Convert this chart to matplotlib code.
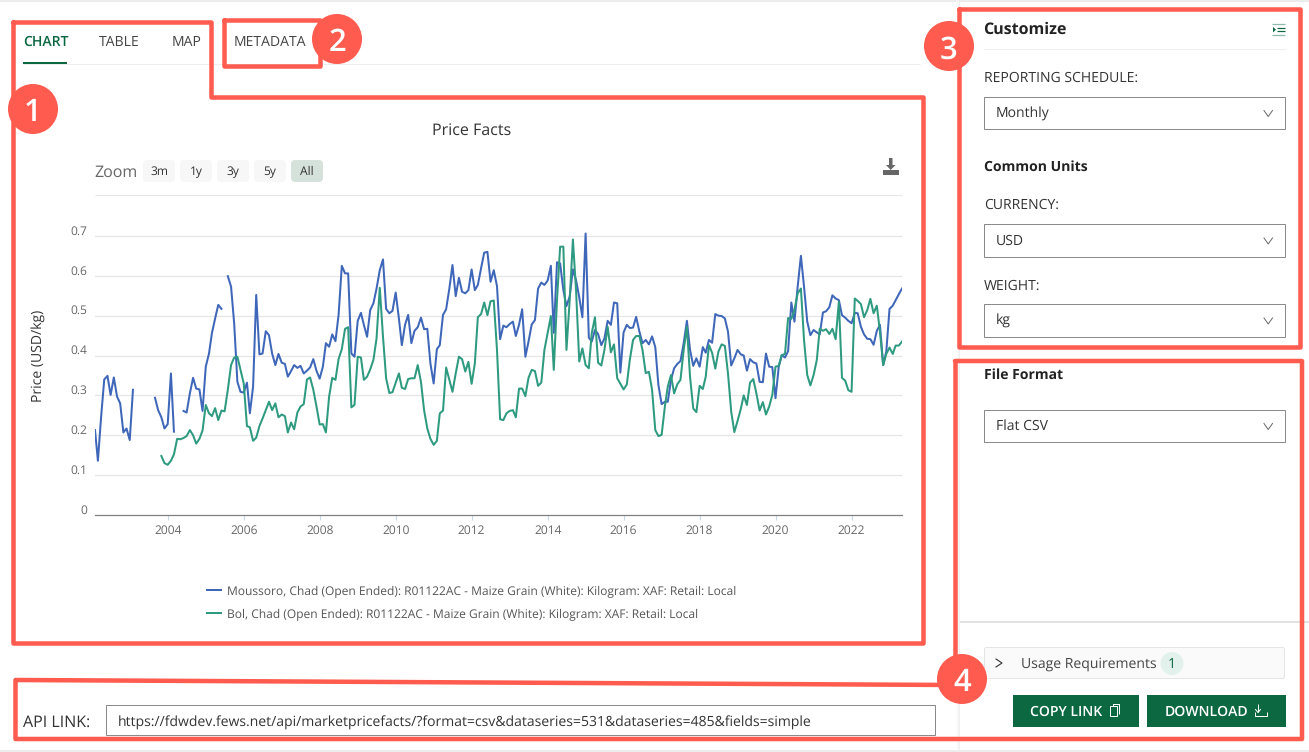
import matplotlib
matplotlib.use("Agg")
import matplotlib.pyplot as plt
import matplotlib.dates as mdates
from matplotlib.patches import Rectangle, Circle, FancyBboxPatch
import pandas as pd
import numpy as np

plt.rcParams['font.family'] = ['Open Sans', 'DejaVu Sans']
plt.rcParams['text.hinting'] = 'no_hinting'
plt.rcParams['text.hinting_factor'] = 1

W, H = 1309, 752
START, END = "2002-02-01", "2023-05-01"

moussoro = [
 .213,.136,.247,.340,.349,.301,.345,.297,.280,.207,.217,.188,.314,
 None,None,None,None,None,None,
 .294,.263,.245,.217,.228,.355,.209,
 None,None,
 .261,.257,.305,.344,.317,.315,.261,.372,.405,.456,.493,.527,.517,
 None,
 .599,.573,.481,.334,.309,.307,.332,.255,.322,.552,.403,.405,.461,.451,.405,.376,
 .404,.382,.379,.347,.361,.376,.369,.374,.355,.362,.370,.391,.362,.342,.372,.431,
 .422,.453,.436,.502,.625,.606,.606,.405,.397,.487,.507,.477,.447,.514,
 .531,.568,.614,.641,.517,.506,.512,.558,.493,.426,.477,.502,.431,.462,.471,.495,
 .466,.467,.380,.330,.416,.426,.502,.516,.568,.627,.549,.595,.560,.556,.564,.616,
 .564,.577,.619,.658,.660,.585,.614,.574,.441,.475,.471,.479,.485,.449,.477,.516,
 .397,.435,.478,.489,.568,.583,.577,.588,.625,.457,.634,.631,.564,.524,.548,.616,
 .589,.546,.496,.706,.445,.435,.464,.454,.426,.443,.487,.477,.533,.531,.357,.458,
 .477,.469,.470,.497,.460,.431,.439,.428,.448,.421,.326,.278,.284,.284,.339,.368,
 .379,.386,.431,.487,.414,.374,.393,.372,.421,.407,.439,.432,.504,.500,.499,.493,
 .460,.375,.393,.414,.403,.400,.362,.391,.383,.380,.334,.333,.405,.372,.371,.293,
 .372,.401,.395,.411,.533,.485,.573,.650,.573,.485,.451,.464,.458,.453,.508,.511,
 .521,.551,.543,.539,.501,.495,.487,.481,.507,.506,.472,.453,.442,.441,.427,.462,
 .477,.376,.410,.517,.525,.539,.554,.568,
]
bol = [None]*21 + [
 .148,.130,.126,.136,.152,.191,.190,.193,.198,.213,.200,.179,.191,.212,
 .276,.255,.248,.268,.238,.262,.260,.314,.376,.395,.397,.364,.330,.223,.220,.186,
 .194,.223,.242,.263,.284,.263,.280,.245,.252,.248,.207,.232,.215,.257,.272,.278,
 .340,.345,.314,.273,.227,.228,.207,.297,.344,.339,.391,.416,.467,.471,.270,.276,
 .397,.395,.339,.347,.365,.389,.443,.570,.447,.343,.306,.308,.332,.355,.319,.316,
 .341,.343,.343,.376,.334,.263,.217,.191,.176,.186,.255,.262,.370,.339,.309,.355,
 .397,.391,.360,.384,.329,.380,.496,.504,.533,.501,.536,.538,.414,.240,.238,.255,
 .261,.263,.245,.317,.317,.298,.344,.364,.361,.324,.332,.414,.456,.499,.364,.539,
 .673,.673,.414,.539,.691,.564,.385,.418,.376,.368,.456,.496,.382,.375,.414,.472,
 .408,.428,.343,.329,.315,.327,.389,.439,.449,.449,.414,.356,.359,.314,.213,.198,
 .201,.272,.322,.351,.305,.328,.339,.414,.472,.347,.267,.258,.324,.316,.347,.426,
 .407,.367,.410,.428,.424,.355,.259,.208,.236,.266,.300,.276,.332,.341,.305,.262,
 .283,.252,.272,.301,.372,.374,.401,.404,.494,.492,.514,.556,.568,.439,.351,.325,
 .351,.389,.467,.462,.466,.454,.467,.441,.535,.344,.337,.313,.309,.543,.537,.529,
 .496,.514,.542,.506,.525,.460,.376,.404,.420,.404,.425,.425,.435,
]
y_ticks = [0, 0.1, 0.2, 0.3, 0.4, 0.5, 0.6, 0.7]
y_labels = ["0", "0.1", "0.2", "0.3", "0.4", "0.5", "0.6", "0.7"]
x_years = list(range(2004, 2023, 2))
series_names = ["Moussoro, Chad (Open Ended): R01122AC - Maize Grain (White): Kilogram: XAF: Retail: Local",
                "Bol, Chad (Open Ended): R01122AC - Maize Grain (White): Kilogram: XAF: Retail: Local"]
zoom_labels = ["3m", "1y", "3y", "5y", "All"]

months = pd.date_range(START, END, freq="MS")
assert len(moussoro) == len(months), f"blue {len(moussoro)} vs {len(months)}"
assert len(bol) == len(months), f"green {len(bol)} vs {len(months)}"

BLUE, GREEN, RED, DARK = "#3f67b9", "#2e9a80", "#ff5b4f", "#0b6841"
TXT, TXT2 = "#333333", "#666666"
def px(s): return s * 0.72

fig = plt.figure(figsize=(W/100, H/100), dpi=100, facecolor="white")

# ---------- chart ----------
AX_L, AX_R, AX_T, AX_B = 95, 902, 225, 515
PER_UNIT = 398.7
ax = fig.add_axes([AX_L/W, 1-AX_B/H, (AX_R-AX_L)/W, (AX_B-AX_T)/H], zorder=2)
ax.patch.set_alpha(0)
m = mdates.date2num(months)
ax.plot(m, np.array(moussoro, float), color=BLUE, lw=1.45, solid_joinstyle="round")
ax.plot(m, np.array(bol, float), color=GREEN, lw=1.45, solid_joinstyle="round")
ax.set_xlim(m[0], m[-1])
ax.set_ylim(0, (AX_B-AX_T)/PER_UNIT)
for s in ("top", "left", "right"):
    ax.spines[s].set_visible(False)
ax.spines["bottom"].set_color("#808080")
ax.spines["bottom"].set_linewidth(0.9)
ax.set_yticks(y_ticks[1:])
ax.grid(axis="y", color="#e6e6e6", lw=0.9)
ax.set_axisbelow(True)
ax.tick_params(axis="y", length=0, labelleft=False)
ax.set_xticks(mdates.date2num([pd.Timestamp(f"{y}-01-01") for y in x_years]))
ax.set_xticklabels([str(y) for y in x_years], fontsize=px(12), color=TXT2)
ax.tick_params(axis="x", length=3.6, width=0.8, color="#ccd6eb", pad=3.5)
for v, lab in zip(y_ticks, y_labels):
    ax.annotate(lab, (0, v), xycoords=("axes fraction", "data"), xytext=(-8, 4.5), textcoords="offset pixels",
                ha="right", va="center", fontsize=px(12.3), color=TXT2)

# ---------- page furniture, in pixel coordinates ----------
ui = fig.add_axes([0, 0, 1, 1], zorder=1)
ui.set_xlim(0, W); ui.set_ylim(H, 0); ui.axis("off")
top = fig.add_axes([0, 0, 1, 1], zorder=3)
top.set_xlim(0, W); top.set_ylim(H, 0); top.axis("off"); top.patch.set_alpha(0)

def T(x, y, s, size=14, color=TXT, ha="left", weight="normal", dy=1.5, **kw):
    ui.text(x, y+dy, s, fontsize=px(size), color=color, ha=ha, va="center", fontweight=weight, **kw)
def L(xs, ys, color, lw=1, a=ui, **kw):
    a.plot(np.array(xs)-0.5, np.array(ys)-0.5, color=color, lw=lw*0.72, solid_capstyle="butt", **kw)
def R(x0, y0, x1, y1, fc="none", ec="none", lw=1, a=ui, z=1):
    a.add_patch(Rectangle((x0-0.5, y0-0.5), x1-x0, y1-y0, fc=fc, ec=ec, lw=lw*0.72, zorder=z))

L([0, W+1], [1, 1], "#e6e6e6", 1.5)
L([0, W+1], [751.5, 751.5], "#e6e6e6", 1.5)
# side panel shadow
for i, c in enumerate(["#f0f0f0", "#f5f5f5", "#f9f9f9", "#fcfcfc"]):
    L([959-i, 959-i], [0, 750], c, 1)
L([960, W+1], [622, 622], "#e2e2e2", 2)

# tabs
T(23, 41, "CHART", 14, DARK, weight="semibold", dy=1)
T(99, 41, "TABLE", 14, "#444444")
T(172, 41, "MAP", 14, "#444444")
T(234, 41, "METADATA", 14, "#444444")
L([23, 920], [64.5, 64.5], "#eeeeee", 1)
L([23, 67], [63.5, 63.5], DARK, 2)

# title and range selector
T(472, 129, "Price Facts", 16, TXT, ha="center")
T(94.5, 171, "Zoom", 16.3, TXT2)
for (x0, lab) in zip([143, 180, 217, 254, 291], zoom_labels):
    sel = lab == "All"
    ui.add_patch(FancyBboxPatch((x0+2, 162), 28, 18, boxstyle="round,pad=0,rounding_size=2", mutation_aspect=1,
                                fc="#d5e1db" if sel else "#f7f7f7", ec="#d5e1db" if sel else "#f7f7f7", lw=2.8))
    T(x0+16, 171.5, lab, 12, TXT, ha="center", dy=0.5)
L([95, 902], [195.5, 195.5], "#e6e6e6", 1)
# export icon
R(883, 170.5, 899.5, 175, fc="#666666")
ui.fill([889, 892.5, 892.5, 895.5, 890.7, 886, 889], [158, 158, 165, 165, 170, 165, 165], color="#666666", lw=0)

# axis title and legend
T(39.3, 355.5, "Price (USD/kg)", 13.8, "#333333", ha="center", rotation=90, dy=0)
for yy, col, name in zip([590.7, 613.7], [BLUE, GREEN], series_names):
    L([206, 222], [yy, yy], col, 2)
    T(227, yy, name, 12, "#555555", dy=1)

# API link
T(23, 721.5, "API LINK:", 16, TXT)
R(106.5, 705.5, 935.5, 735.5, fc="white", ec="#8a8a8a", lw=1)
T(118, 721, "https://fdwdev.fews.net/api/marketpricefacts/?format=csv&dataseries=531&dataseries=485&fields=simple", 14, TXT)

# customise panel
def select(y0, y1, label):
    R(984.5, y0+.5, 1285.5, y1-.5, fc="white", ec="#8a8a8a", lw=1)
    T(996, (y0+y1)/2, label, 14, TXT, dy=0)
    cy = (y0+y1)/2
    ui.plot([1264, 1268.2, 1272.5], [cy-3, cy+3, cy-3], color="#666666", lw=0.7)

T(983.5, 29, "Customize", 16, "#222222", weight="bold", dy=1)
L([1277, 1285], [28, 28], DARK, 1.2)
L([1277, 1285], [31.3, 31.3], DARK, 1.2)
L([1272.7, 1285.3], [24.5, 24.5], "#8fbcaa", 1.3); L([1272.7, 1285.3], [35, 35], "#8fbcaa", 1.3)
ui.fill([1273, 1276, 1273], [27, 29.7, 32.4], color=DARK, lw=0)
L([984, 1286], [49.5, 49.5], "#eeeeee", 1)
T(984, 77, "REPORTING SCHEDULE:", 14, TXT)
select(97, 130, "Monthly")
T(983.5, 166, "Common Units", 14, "#222222", weight="bold")
T(984, 204, "CURRENCY:", 14, TXT)
select(224, 258, "USD")
T(984, 285, "WEIGHT:", 14, TXT)
select(304, 338, "kg")
T(983.5, 374, "File Format", 14, "#222222", weight="bold")
select(410, 443, "Flat CSV")

# usage and buttons
ui.add_patch(FancyBboxPatch((984.5, 647.5), 300, 31, boxstyle="round,pad=0,rounding_size=2", fc="#fafafa", ec="#e5e5e5", lw=0.72))
ui.plot([996, 1002, 996], [659, 663, 667], color="#333333", lw=0.8)
T(1021, 663, "Usage Requirements", 14, "#444444")
ui.add_patch(Circle((1172, 663.5), 11.5, fc="#e3f1ed", ec="none", zorder=2))
ui.text(1172, 664.5, "1", fontsize=px(14), color=DARK, ha="center", va="center", zorder=3)
R(1013, 695, 1139, 727, fc=DARK)
R(1147, 695, 1286, 727, fc=DARK)
T(1030, 711, "COPY LINK", 14, "white", weight="semibold", dy=1)
T(1165, 711, "DOWNLOAD", 14, "white", weight="semibold", dy=1)
R(1110.5, 706.5, 1117, 716, ec="white", lw=1, z=3)
L([1113, 1113, 1119.5, 1119.5], [706.5, 704.5, 704.5, 714], "white", 1)
L([1258, 1258], [704, 712], "white", 1)
ui.plot([1255.5, 1258, 1260.5], [709.5, 712.5, 709.5], color="white", lw=0.72)
L([1255, 1255, 1267, 1267], [712, 716, 716, 712], "white", 1)

# red annotation frames
def frame(xs, ys, lw=4.5):
    top.plot(xs, ys, color=RED, lw=lw*0.72, solid_joinstyle="round", solid_capstyle="round")
frame([12.5, 211, 211, 922.5, 922.5, 12.5, 12.5], [21.5, 21.5, 97, 97, 642.5, 642.5, 21.5])
frame([224, 320, 320, 224, 224], [20, 20, 65.5, 65.5, 20])
frame([958.5, 1299.5, 1299.5, 958.5, 958.5], [8.5, 8.5, 347, 347, 8.5])
frame([955, 955], [361, 660])
frame([955, 1302, 1302, 15.5, 15.5, 955], [361, 361, 739, 739, 680, 685])
for cx, cy, lab in [(33, 109, "1"), (337, 39, "2"), (949, 46, "3"), (962, 679, "4")]:
    top.add_patch(Circle((cx, cy), 25, fc=RED, ec="none", zorder=5))
    top.text(cx, cy+0.5, lab, fontsize=px(31), color="white", ha="center", va="center_baseline",
             family="Open Sans", fontweight="semibold", zorder=6)

fig.savefig("out.png", dpi=100)
